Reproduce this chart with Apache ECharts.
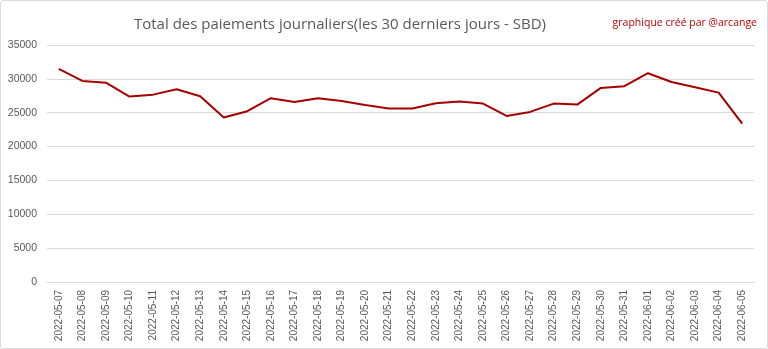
<!DOCTYPE html>
<html><head><meta charset="utf-8">
<script src="https://cdn.jsdelivr.net/npm/echarts@6/dist/echarts.min.js"></script>
<style>
html,body{margin:0;padding:0;background:#fff;}
#c{width:766px;height:347px;border:1px solid #d9d9d9;border-radius:3px;}
</style></head>
<body><div id="c"></div>
<script>
const categories = ["2022-05-07","2022-05-08","2022-05-09","2022-05-10","2022-05-11","2022-05-12","2022-05-13","2022-05-14","2022-05-15","2022-05-16","2022-05-17","2022-05-18","2022-05-19","2022-05-20","2022-05-21","2022-05-22","2022-05-23","2022-05-24","2022-05-25","2022-05-26","2022-05-27","2022-05-28","2022-05-29","2022-05-30","2022-05-31","2022-06-01","2022-06-02","2022-06-03","2022-06-04","2022-06-05"];
const payments = [31460,29690,29440,27380,27670,28470,27430,24280,25220,27140,26590,27140,26740,26150,25610,25610,26400,26640,26350,24530,25120,26350,26200,28660,28910,30830,29540,28760,27970,23390];
const yTicks = {min:0, max:35000, interval:5000};
const titleText = "Total des paiements journaliers(les 30 derniers jours - SBD)";
const creditText = "graphique créé par @arcange";

const chart = echarts.init(document.getElementById('c'), null, {renderer:'canvas'});
chart.setOption({
  animation:false,
  title:[
    {text:titleText, left:334, top:11, textAlign:'center',
     textStyle:{fontFamily:'Open Sans', fontSize:15, fontWeight:'normal', color:'#595959'}},
    {text:creditText, right:5, top:12,
     textStyle:{fontFamily:'Open Sans', fontSize:10.5, fontWeight:'normal', color:'#C00000'}}
  ],
  grid:{left:46, right:13, top:44, bottom:66, containLabel:false},
  xAxis:{
    type:'category', data:categories, boundaryGap:true,
    axisLine:{show:true, lineStyle:{color:'#d9d9d9', width:1}},
    axisTick:{show:false},
    axisLabel:{rotate:90, interval:0, margin:8, color:'#595959', fontSize:10, fontFamily:'Liberation Sans'}
  },
  yAxis:{
    type:'value', min:yTicks.min, max:yTicks.max, interval:yTicks.interval,
    axisLine:{show:false}, axisTick:{show:false},
    splitLine:{lineStyle:{color:'#d9d9d9', width:1}},
    axisLabel:{color:'#595959', fontSize:10.5, fontFamily:'Liberation Sans', margin:10,
      formatter:function(v){return String(v);}}
  },
  series:[{
    type:'line', data:payments, symbol:'none',
    lineStyle:{color:'#A50000', width:2}, itemStyle:{color:'#A50000'}
  }]
});
</script></body></html>
